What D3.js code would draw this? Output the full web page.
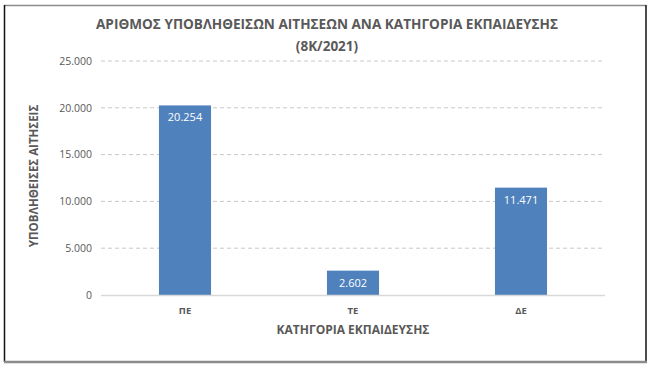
<!DOCTYPE html>
<html><head><meta charset="utf-8">
<script src="https://cdn.jsdelivr.net/npm/d3@7"></script>
<style>body{margin:0;background:#fff}svg{display:block}text{font-family:"Open Sans","Noto Sans",sans-serif}</style>
</head><body>
<svg id="c" width="656" height="369"></svg>
<script>
const categories = ["ΠΕ", "ΤΕ", "ΔΕ"];
const values = [20254, 2602, 11471];
const yTicks = [0, 5000, 10000, 15000, 20000, 25000];
const titleLines = ["ΑΡΙΘΜΟΣ ΥΠΟΒΛΗΘΕΙΣΩΝ ΑΙΤΗΣΕΩΝ ΑΝΑ ΚΑΤΗΓΟΡΙΑ ΕΚΠΑΙΔΕΥΣΗΣ", "(8Κ/2021)"];
const yTitle = "ΥΠΟΒΛΗΘΕΙΣΕΣ ΑΙΤΗΣΕΙΣ";
const xTitle = "ΚΑΤΗΓΟΡΙΑ ΕΚΠΑΙΔΕΥΣΗΣ";

const svg = d3.select("#c");
const fmt = v => d3.format(",")(v).replace(/,/g, ".");
const grey = "#595959";

// frame
svg.append("line").attr("x1",4).attr("x2",646).attr("y1",5.5).attr("y2",5.5).attr("stroke","#8c8c8c").attr("stroke-width",1.5);
svg.append("line").attr("x1",4.5).attr("x2",4.5).attr("y1",5).attr("y2",362).attr("stroke","#111").attr("stroke-width",1.5);
svg.append("line").attr("x1",646).attr("x2",646).attr("y1",5).attr("y2",362).attr("stroke","#111").attr("stroke-width",1.5);
svg.append("line").attr("x1",4).attr("x2",647).attr("y1",362).attr("y2",362).attr("stroke","#8c8c8c").attr("stroke-width",2.5);

const x = d3.scaleBand().domain(categories).range([101, 605]).paddingInner(0.69).paddingOuter(0.345);
const y = d3.scaleLinear().domain([0, 25000]).range([295, 61]);

// gridlines
svg.append("g").selectAll("line").data(yTicks.filter(t => t > 0)).join("line")
  .attr("x1", 101).attr("x2", 605).attr("y1", d => y(d)).attr("y2", d => y(d))
  .attr("stroke", "#c8c8c8").attr("stroke-width", 1).attr("stroke-dasharray", "4,3");

// y tick labels
const yAxis = d3.axisLeft(y).tickValues(yTicks).tickFormat(fmt).tickSize(0).tickPadding(0);
const ga = svg.append("g").attr("transform", "translate(92,0)").call(yAxis);
ga.select(".domain").remove();
ga.selectAll("text").attr("fill", grey).style("font-size", "10.5px").style("font-family", '"Open Sans",sans-serif');

// bars
svg.append("g").selectAll("rect").data(values).join("rect")
  .attr("x", (d, i) => x(categories[i])).attr("width", x.bandwidth())
  .attr("y", d => y(d)).attr("height", d => y(0) - y(d)).attr("fill", "#4F81BD");

// baseline
svg.append("line").attr("x1", 101).attr("x2", 605).attr("y1", y(0)+0.5).attr("y2", y(0)+0.5).attr("stroke", "#d9d9d9").attr("stroke-width", 1.5);

// data labels
svg.append("g").selectAll("text").data(values).join("text")
  .attr("x", (d, i) => x(categories[i]) + x.bandwidth()/2).attr("y", d => y(d) + 16)
  .attr("text-anchor", "middle").attr("fill", "#fff").style("font-size", "11px").text(fmt);

// x labels
const xAxis = d3.axisBottom(x).tickSize(0).tickPadding(0);
const gx = svg.append("g").attr("transform", "translate(0,307)").call(xAxis);
gx.select(".domain").remove();
gx.selectAll("text").attr("fill", grey).style("font-size", "9.5px").style("font-weight", "bold").style("font-family", '"Open Sans",sans-serif');

// titles
svg.append("g").selectAll("text").data(titleLines).join("text")
  .attr("x", 327).attr("y", (d, i) => 29 + i * 22).attr("text-anchor", "middle")
  .attr("fill", grey).style("font-size", "13.5px").style("font-weight", "bold").text(d => d)
  .each(function(d, i){ if (i === 0) d3.select(this).attr("textLength", 462).attr("lengthAdjust", "spacingAndGlyphs"); });

svg.append("text").attr("x", 353).attr("y", 334).attr("text-anchor", "middle")
  .attr("fill", grey).style("font-size", "12px").style("font-weight", "bold").text(xTitle);

svg.append("text").attr("transform", "translate(38,176) rotate(-90)").attr("text-anchor", "middle")
  .attr("fill", grey).style("font-size", "11.5px").style("font-weight", "bold").text(yTitle);
</script>
</body></html>
